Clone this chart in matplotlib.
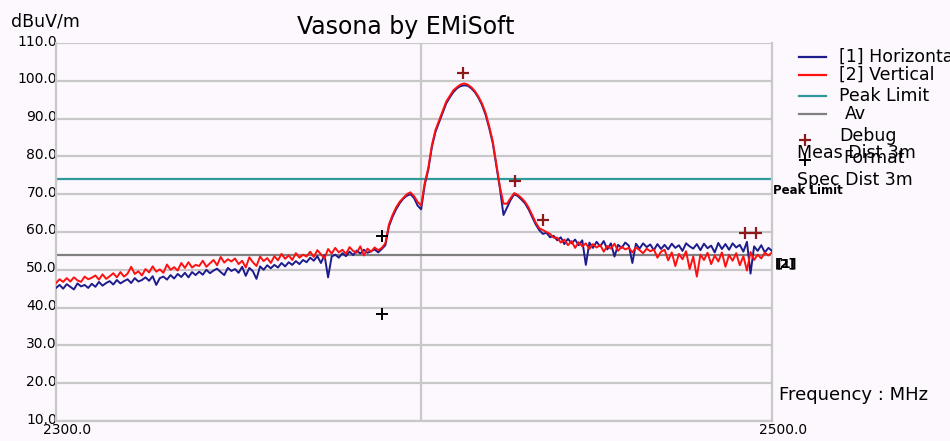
import matplotlib
matplotlib.use("Agg")
import matplotlib.pyplot as plt
import matplotlib.transforms as mtrans
from matplotlib.lines import Line2D
import numpy as np

# sweep 2300-2500 MHz, 1 MHz per sample
freq = np.arange(2300, 2501, 1)

# [2] Vertical polarisation, dBuV/m
vertical = [
    46.5, 47.5, 46.8, 47.8, 46.9, 48.0, 47.2, 46.8, 48.2, 47.5,
    47.9, 48.5, 47.4, 48.8, 47.6, 48.3, 49.1, 48.0, 49.4, 48.2,
    49.0, 50.8, 48.9, 49.6, 48.5, 50.2, 49.3, 50.9, 49.5, 50.1,
    49.2, 51.4, 50.0, 50.7, 49.8, 51.8, 50.5, 52.0, 50.6, 51.3,
    51.0, 52.4, 50.8, 51.7, 52.6, 51.2, 53.4, 51.9, 52.8, 52.2,
    53.0, 51.5, 52.4, 50.6, 53.3, 52.0, 51.0, 53.5, 52.3, 53.1,
    51.8, 53.6, 52.5, 54.2, 52.9, 53.8, 52.6, 54.4, 53.2, 54.0,
    53.5, 54.8, 53.4, 55.2, 54.1, 53.0, 55.5, 54.3, 55.8, 54.6,
    55.3, 54.2, 56.0, 55.0, 54.5, 56.2, 53.8, 55.6, 54.8, 55.9,
    55.2, 55.8, 57.0, 62.0, 64.5, 66.5, 68.0, 69.0, 70.0, 70.5,
    69.5, 68.0, 67.0, 73.0, 77.0, 83.0, 87.0, 89.5, 92.0, 94.5,
    96.0, 97.5, 98.3, 99.0, 99.3, 99.0, 98.3, 97.3, 95.8, 94.0,
    91.5, 88.0, 84.0, 78.0, 72.0, 67.5, 67.5, 69.0, 70.3, 69.8,
    69.0, 68.0, 66.5, 64.5, 62.5, 61.0, 60.5, 60.0, 59.5, 58.5,
    58.5, 57.2, 58.0, 56.5, 57.6, 55.8, 57.3, 56.2, 57.0, 55.5,
    56.8, 55.9, 56.6, 54.8, 56.3, 55.6, 56.9, 55.0, 56.1, 55.4,
    55.8, 54.6, 55.9, 55.2, 54.4, 55.6, 54.9, 55.4, 53.2, 54.8,
    55.3, 52.5, 54.6, 51.0, 54.2, 52.8, 54.9, 50.2, 53.5, 48.2,
    54.0, 52.6, 54.5, 51.5, 53.8, 52.2, 54.6, 50.8, 53.9, 52.4,
    54.4, 51.2, 53.6, 49.8, 54.7, 52.6, 54.0, 53.0, 54.5, 53.8,
    54.6,
]

# [1] Horizontal polarisation, dBuV/m
horizontal = [
    45.2, 46.0, 45.0, 46.2, 45.5, 44.8, 46.4, 45.6, 46.0, 45.2,
    46.3, 45.5, 46.8, 45.8, 46.5, 47.0, 46.1, 47.3, 46.4, 47.0,
    47.5, 46.5, 47.8, 46.9, 47.3, 48.0, 47.1, 48.3, 46.0, 47.8,
    48.2, 47.4, 48.6, 47.7, 48.9, 48.1, 49.2, 48.0, 49.4, 48.6,
    49.5, 48.7, 50.0, 49.1, 49.8, 50.3, 49.4, 48.6, 50.5, 49.7,
    50.2, 49.2, 50.8, 48.4, 50.5, 49.6, 47.6, 50.9, 50.0, 51.2,
    50.4, 51.3, 50.6, 51.8, 50.9, 52.0, 51.3, 52.3, 51.5, 52.6,
    52.0, 53.2, 52.4, 53.6, 51.8, 53.9, 48.0, 53.5, 54.0, 53.2,
    54.4, 53.6, 54.8, 53.9, 55.1, 54.3, 55.3, 54.5, 54.9, 55.4,
    54.6, 55.5, 56.5, 61.5, 64.0, 66.0, 67.6, 68.8, 69.6, 70.0,
    69.0, 67.0, 66.0, 72.5, 76.5, 82.5, 86.5, 89.0, 91.5, 94.0,
    95.6, 97.0, 98.0, 98.6, 98.8, 98.7, 98.0, 97.0, 95.5, 93.6,
    91.0, 87.5, 83.5, 77.5, 71.5, 64.5, 66.5, 68.5, 70.0, 69.5,
    68.6, 67.6, 66.0, 64.0, 62.0, 60.5, 59.5, 59.8, 58.6, 59.0,
    57.8, 58.6, 56.8, 58.2, 57.0, 58.0, 56.5, 57.8, 51.3, 57.2,
    55.8, 57.4, 56.2, 57.6, 55.4, 57.0, 53.5, 56.6, 55.8, 57.2,
    56.4, 51.8, 56.9, 55.6, 57.0, 56.0, 56.7, 55.2, 56.8, 55.5,
    56.6, 55.4, 56.9, 55.8, 56.5, 55.0, 57.0, 56.2, 55.6, 56.8,
    55.2, 56.9, 55.7, 56.4, 54.6, 57.1, 55.5, 56.8, 55.3, 57.0,
    55.9, 56.6, 54.8, 57.4, 49.0, 56.2, 55.0, 56.5, 54.6, 55.8,
    55.0,
]

peak_limit = 74.0
av_level = 54.0
marker_freq = 2402.0

# debug peaks (dark red) and format points (black)
debug_f = [2413.7, 2428.2, 2436.0, 2492.5, 2495.5]
debug_v = [102.1, 73.5, 63.2, 59.7, 59.7]
format_f = [2391.0, 2391.0]
format_v = [58.9, 38.3]

y_ticks = [10, 20, 30, 40, 50, 60, 70, 80, 90, 100, 110]
x_ticks = [2300, 2500]

BG = "#fdf8fd"
GRID = "#c8c8c8"
NAVY = "#1c1c8c"
RED = "#ff1010"
TEAL = "#2e9a9a"
GREY = "#808080"
BROWN = "#8b1a1a"

W, H = 950, 441
fig = plt.figure(figsize=(W / 100, H / 100), dpi=100, facecolor=BG)
ax = fig.add_axes([56 / W, 1 - 421 / H, (772 - 56) / W, (421 - 43) / H])
ax.set_facecolor(BG)


def px(x, y):
    # pixel position -> figure fraction
    return x / W, 1 - y / H


ax.set_xlim(2300, 2500)
ax.set_ylim(10, 110)
for v in y_ticks:
    ax.axhline(v, color=GRID, lw=1.6, zorder=1)
ax.axvline(marker_freq, color=GRID, lw=1.6, zorder=1)
for s in ["left", "right", "bottom"]:
    ax.spines[s].set_color(GRID)
    ax.spines[s].set_linewidth(1.6)
ax.spines["top"].set_visible(False)

ax.axhline(peak_limit, color=TEAL, lw=1.6, zorder=2)
ax.axhline(av_level, color=GREY, lw=1.6, zorder=2)

ax.plot(freq, horizontal, color=NAVY, lw=1.4, zorder=3)
ax.plot(freq, vertical, color=RED, lw=1.4, zorder=4)

ax.plot(debug_f, debug_v, ls="none", marker="+", ms=9, mew=1.6, color=BROWN, zorder=5)
ax.plot(format_f, format_v, ls="none", marker="+", ms=9, mew=1.4, color="black", zorder=5)

ax.set_yticks(y_ticks)
ax.set_yticklabels(["%.1f" % v for v in y_ticks], fontsize=10)
ax.set_xticks(x_ticks)
ax.set_xticklabels(["%.1f" % v for v in x_ticks], fontsize=10)
ax.tick_params(length=0, pad=0)
for lab in ax.get_yticklabels():
    lab.set_transform(lab.get_transform() + mtrans.ScaledTranslation(0.01, 0.03, fig.dpi_scale_trans))
for lab in ax.get_xticklabels():
    lab.set_transform(lab.get_transform() + mtrans.ScaledTranslation(0.11, -0.02, fig.dpi_scale_trans))

fig.text(*px(406, 27), "Vasona by EMiSoft", fontsize=17, ha="center", va="center")
fig.text(*px(11, 21), "dBuV/m", fontsize=12.5, ha="left", va="center")
fig.text(*px(779, 395), "Frequency : MHz", fontsize=13, ha="left", va="center")

# labels hanging off the right edge of the plot
ax.text(1.002, peak_limit - 1.2, "Peak Limit", transform=ax.get_yaxis_transform(),
        fontsize=8.5, fontweight="bold", ha="left", va="top")
ax.text(1.004, av_level - 0.6, "[2]", transform=ax.get_yaxis_transform(),
        fontsize=9, fontweight="bold", ha="left", va="top")
ax.text(1.007, av_level - 0.6, "[1]", transform=ax.get_yaxis_transform(),
        fontsize=9, fontweight="bold", ha="left", va="top")

# legend
legend_lines = [("[1] Horizontal", NAVY, 57), ("[2] Vertical", RED, 75),
                ("Peak Limit", TEAL, 96), ("Av", GREY, 114)]
for label, col, y in legend_lines:
    x0, yf = px(799, y)
    x1, _ = px(826, y)
    fig.add_artist(Line2D([x0, x1], [yf, yf], color=col, lw=1.6, transform=fig.transFigure))
    fig.text(*px(845 if label == "Av" else 839, y), label, fontsize=12.5, ha="left", va="center")

fig.add_artist(Line2D([px(805, 140)[0]], [px(805, 140)[1]], marker="+", ms=9, mew=1.6,
                      color=BROWN, transform=fig.transFigure))
fig.add_artist(Line2D([px(805, 160)[0]], [px(805, 160)[1]], marker="+", ms=9, mew=1.4,
                      color="black", transform=fig.transFigure))
fig.text(*px(839, 136), "Debug", fontsize=12.5, ha="left", va="center")
fig.text(*px(843, 158), "Format", fontsize=12.5, ha="left", va="center")
fig.text(*px(797, 153), "Meas Dist 3m", fontsize=12.5, ha="left", va="center")
fig.text(*px(797, 180), "Spec Dist 3m", fontsize=12.5, ha="left", va="center")

fig.savefig("out.png", dpi=100, facecolor=BG)
